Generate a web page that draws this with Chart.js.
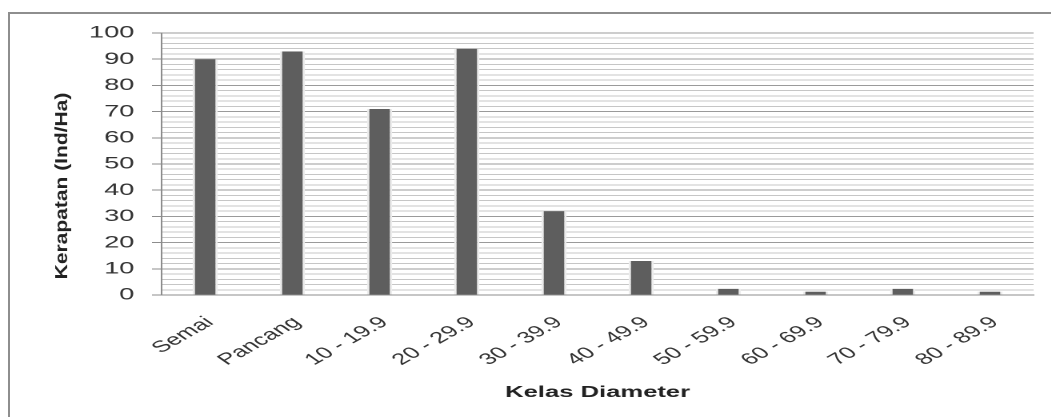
<!DOCTYPE html>
<html>
<head>
<meta charset="utf-8">
<script src="https://cdn.jsdelivr.net/npm/chart.js@4"></script>
<style>
html, body { margin: 0; padding: 0; background: #fff; overflow: hidden; }
#frame { position: absolute; left: 8px; top: 12px; width: 1100px; height: 500px;
  border-left: 2px solid #8e8e8e; border-top: 2px solid #8e8e8e; }
/* the original picture is stretched sideways, so the chart is drawn narrow and widened */
#wrap { position: absolute; left: 0; top: 0; width: 657px; height: 417px;
  transform: scaleX(1.6); transform-origin: 0 0; }
</style>
</head>
<body>
<div id="frame"></div>
<div id="wrap"><canvas id="chart"></canvas></div>
<script>
// kerapatan per kelas diameter
const kelas = ['Semai', 'Pancang', '10 - 19.9', '20 - 29.9', '30 - 39.9',
  '40 - 49.9', '50 - 59.9', '60 - 69.9', '70 - 79.9', '80 - 89.9'];
const kerapatan = [90, 93, 71, 94, 32, 13, 2.4, 1.3, 2.4, 1.3];
const yMax = 100;
const yStep = 10;
const yTitle = 'Kerapatan (Ind/Ha)';
const xTitle = 'Kelas Diameter';

const isMajor = v => v % yStep === 0;

// rotated, squeezed axis title like in the picture
const yTitlePlugin = {
  id: 'yTitle',
  afterDraw(chart) {
    const ctx = chart.ctx;
    ctx.save();
    ctx.translate(39, 186);
    ctx.rotate(-Math.PI / 2);
    ctx.scale(1, 0.52);
    ctx.font = 'bold 21px "Liberation Sans"';
    ctx.fillStyle = '#222';
    ctx.textAlign = 'center';
    ctx.textBaseline = 'middle';
    ctx.fillText(yTitle, 0, 0);
    ctx.restore();
  }
};

const canvas = document.getElementById('chart');
canvas.width = 657;
canvas.height = 417;

const myChart = new Chart(canvas.getContext('2d'), {
  type: 'bar',
  data: {
    labels: kelas,
    datasets: [{
      label: yTitle,
      data: kerapatan,
      backgroundColor: '#5e5e5e',
      borderColor: '#ececec',
      borderWidth: { top: 0, left: 1.5, right: 1.5, bottom: 0 },
      borderSkipped: false,
      barPercentage: 0.29,
      categoryPercentage: 1
    }]
  },
  options: {
    responsive: false,
    animation: false,
    devicePixelRatio: 2,
    layout: { padding: { top: 33, right: 11, left: 0, bottom: 0 } },
    plugins: {
      legend: { display: false },
      tooltip: { enabled: false }
    },
    scales: {
      x: {
        grid: { display: false },
        border: { display: true, color: '#8c8c8c', width: 1 },
        ticks: {
          minRotation: 42,
          maxRotation: 42,
          padding: 10,
          labelOffset: 3,
          color: '#333',
          font: { family: 'Liberation Sans', size: 16 }
        },
        title: {
          display: true,
          text: xTitle,
          color: '#222',
          font: { family: 'Liberation Sans', size: 16, weight: 'bold' },
          padding: { top: 0, bottom: 15 }
        },
        afterFit(scale) { scale.height = 122; }
      },
      y: {
        min: 0,
        max: yMax,
        grid: {
          color: c => isMajor(c.tick.value) ? '#9a9a9a' : '#c6c6c6',
          tickColor: c => isMajor(c.tick.value) ? '#8c8c8c' : 'rgba(0,0,0,0)',
          tickLength: 6,
          lineWidth: 1
        },
        border: { display: true, color: '#8c8c8c', width: 1 },
        ticks: {
          stepSize: 2,
          autoSkip: false,
          maxTicksLimit: 100,
          padding: 11,
          color: '#333',
          font: { family: 'Liberation Sans', size: 17 },
          callback: v => isMajor(v) ? v : ''
        },
        afterFit(scale) { scale.width = 101; }
      }
    }
  },
  plugins: [yTitlePlugin]
});
</script>
</body>
</html>
